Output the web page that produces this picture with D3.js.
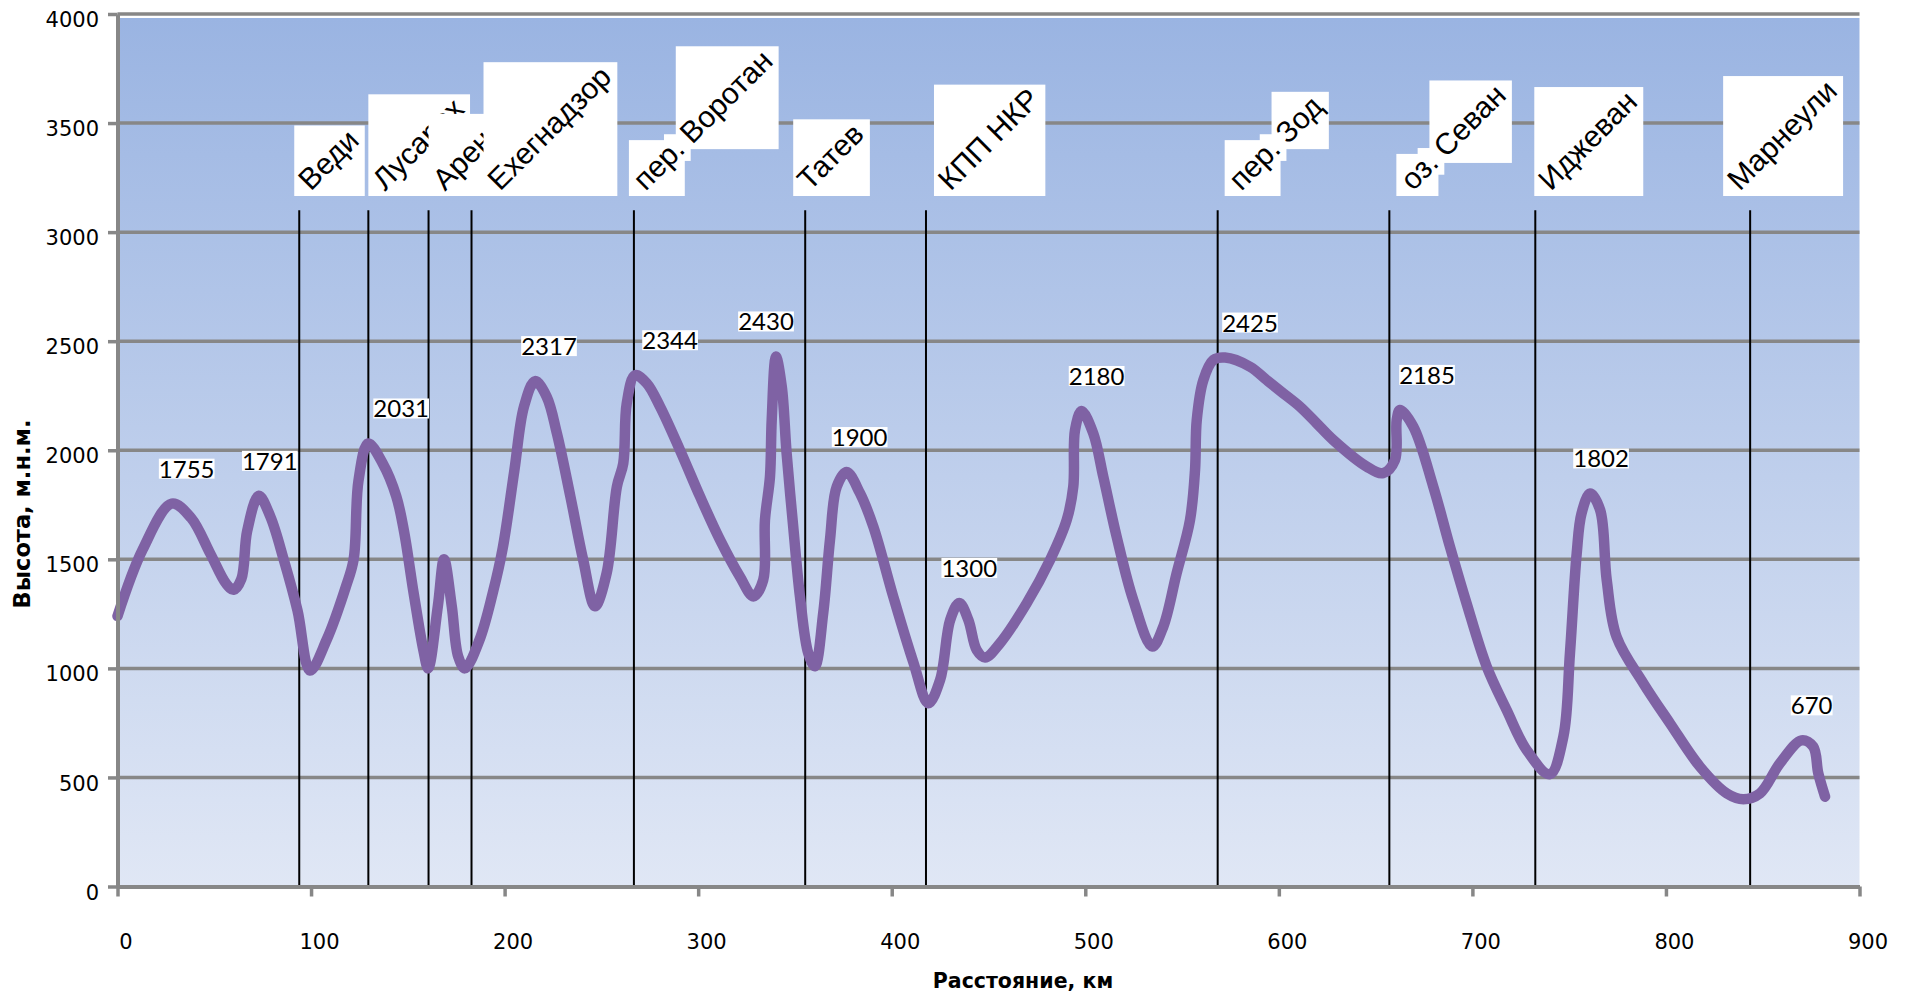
<!DOCTYPE html>
<html lang="ru">
<head>
<meta charset="UTF-8">
<title>Профиль высот</title>
<script src="https://d3js.org/d3.v7.min.js"></script>
<style>
  body { margin: 0; background: #fff; }
  svg { display: block; }
</style>
</head>
<body>
<svg width="1910" height="994"></svg>
<script>
// профиль маршрута: расстояние (км) и высота (м)
const distanceKm = [
  0, 13, 28, 38, 48, 56, 60, 64, 67, 73, 79, 86, 93, 99.5, 108, 118, 122, 124.5, 129.5,
  137, 144, 148, 153, 158, 160.5, 165.5, 168.7, 172.7, 176, 179.5, 187, 194, 199, 205,
  210, 215.7, 221.7, 227, 234, 240.6, 246.7, 252.7, 258, 261.3, 263.1, 267.4, 273.4,
  280.3, 290.6, 301, 311.3, 321.6, 328.5, 333.6, 334.5, 337.1, 338, 340.2, 343.2, 345.7,
  349.1, 352.6, 356.9, 360.3, 364.6, 368.1, 371.6, 376.7, 383.6, 390.5, 400.8, 411.1,
  418.9, 425, 430.2, 434.9, 439.6, 443.9, 448.2, 455.9, 469.7, 481.8, 490.4, 493.8,
  494.7, 498.1, 504.1, 509.3, 516.2, 524.8, 534.6, 540.3, 547.2, 554.1, 556.7, 557.6,
  561, 566.2, 572.2, 585.1, 593.7, 602.3, 610.9, 619.5, 628.1, 645.4, 653.9, 660, 660.9,
  662.6, 669.5, 679.8, 688.4, 697, 707.4, 717.7, 728, 740, 747, 750.4, 753.9, 756.4,
  760.8, 766, 769.4, 774.5, 788.3, 802.1, 817.6, 831.4, 840, 848.6, 858.9, 870.1, 876.1,
  878.7, 882.2
];
const elevationM = [
  1240, 1545, 1755, 1690, 1525, 1390, 1360, 1410, 1630, 1791, 1695, 1495, 1265, 990, 1130, 1375, 1500, 1860, 2031,
  1940, 1790, 1630, 1345, 1085, 1000, 1285, 1500, 1285, 1055, 1000, 1130, 1350, 1550, 1905,
  2200, 2317, 2246, 2078, 1787, 1497, 1285, 1436, 1833, 1940, 2215, 2344, 2307,
  2200, 2001, 1787, 1589, 1420, 1330, 1405, 1680, 1879, 2139, 2430, 2291, 1986,
  1650, 1329, 1069, 1010, 1253, 1589, 1833, 1900, 1803, 1650, 1329, 1030,
  840, 947, 1222, 1300, 1222, 1084, 1050, 1115, 1298, 1497, 1680, 1833,
  2093, 2180, 2078, 1879, 1604, 1313, 1100, 1191, 1436, 1680, 1909, 2139,
  2322, 2414, 2425, 2383, 2322, 2261, 2200, 2124, 2047, 1925, 1895, 1955, 2139,
  2185, 2108, 1833, 1558, 1298, 1008, 809, 626, 515, 687, 1069, 1528, 1711,
  1802, 1726, 1405, 1145, 932, 748, 549, 427, 400, 427, 565, 670, 641,
  519, 412
];
// подписанные вершины
const peakLabels = [1755, 1791, 2031, 2317, 2344, 2430, 1900, 1300, 2180, 2425, 2185, 1802, 670];
// сдвиг подписей вершин вправо, px
const peakNudge = [15, 11, 33, 14, 35, -10, 13, 10, 15, 25, 27, 11, 10];

// пункты маршрута
const placeNames = ["Веди", "Лусарох", "Арени", "Ехегнадзор", "пер. Воротан", "Татев",
  "КПП НКР", "пер. Зод", "оз. Севан", "Иджеван", "Марнеули"];
const placeKm = [93.9, 129.6, 160.7, 182.9, 266.8, 355.3, 417.7, 568.4, 657.1, 732.5, 843.5];
const placeLineTop = 3100;
// сдвиг надписей относительно линии, px
const placeNudge = [-5, 0, 0, 12, -5, -12, 8, 7, 7, -1, -27];

const xTicks = [0, 100, 200, 300, 400, 500, 600, 700, 800, 900];
const yTicks = [0, 500, 1000, 1500, 2000, 2500, 3000, 3500, 4000];

const svg = d3.select("svg");
const x = d3.scaleLinear().domain([0, 900]).range([117.5, 1859.5]);
const y = d3.scaleLinear().domain([0, 4000]).range([886.5, 14]);
const gridColor = "#878787";

const defs = svg.append("defs");
const grad = defs.append("linearGradient")
  .attr("id", "bg").attr("x1", 0).attr("y1", 0).attr("x2", 0).attr("y2", 1);
grad.append("stop").attr("offset", "0%").attr("stop-color", "#9ab4e2");
grad.append("stop").attr("offset", "100%").attr("stop-color", "#e0e7f5");

svg.append("rect")
  .attr("x", x(0)).attr("y", y(4000) + 4)
  .attr("width", x(900) - x(0)).attr("height", y(0) - y(4000) - 4)
  .attr("fill", "url(#bg)");

// горизонтальная сетка
svg.append("g").selectAll("line")
  .data(yTicks.filter(d => d > 0))
  .join("line")
  .attr("x1", x(0)).attr("x2", x(900))
  .attr("y1", d => y(d)).attr("y2", d => y(d))
  .attr("stroke", gridColor).attr("stroke-width", 3.5);

// вертикальные линии пунктов
svg.append("g").selectAll("line")
  .data(placeKm)
  .join("line")
  .attr("x1", d => x(d)).attr("x2", d => x(d))
  .attr("y1", y(placeLineTop)).attr("y2", y(0))
  .attr("stroke", "#000").attr("stroke-width", 2);

// профиль
const points = distanceKm.map((d, i) => [d, elevationM[i]]);
const line = d3.line()
  .x(d => x(d[0]))
  .y(d => y(d[1]))
  .curve(d3.curveCatmullRom.alpha(0.5));

svg.append("path")
  .datum(points)
  .attr("d", line)
  .attr("fill", "none")
  .attr("stroke", "#7f62a4")
  .attr("stroke-width", 10.5)
  .attr("stroke-linecap", "round")
  .attr("stroke-linejoin", "round");

// подписи высот
const peakG = svg.append("g")
  .attr("font-family", "Lato, 'Open Sans', sans-serif")
  .attr("font-size", 24);
peakLabels.forEach((v, k) => {
  const i = elevationM.indexOf(v);
  const px = x(distanceKm[i]) + peakNudge[k];
  const py = y(v) - 26;
  const r = peakG.append("rect").attr("fill", "#fff");
  const t = peakG.append("text")
    .attr("x", px).attr("y", py)
    .attr("text-anchor", "middle")
    .attr("fill", "#000")
    .text(v);
  const bb = t.node().getBBox();
  r.attr("x", bb.x).attr("y", py - 19).attr("width", bb.width).attr("height", 20);
});

// названия пунктов
const fs = 30;
const c45 = Math.SQRT1_2;
const placeG = svg.append("g")
  .attr("font-family", "'Liberation Sans', Arial, sans-serif")
  .attr("font-size", fs);
placeNames.forEach((name, k) => {
  const g = placeG.append("g");
  const boxes = g.append("g");
  const t = g.append("text")
    .attr("transform", "rotate(-45)")
    .attr("fill", "#000")
    .text(name);
  const node = t.node();
  const re = /\.|[^.\s][^.]*/g;
  let m, first = null;
  const runs = [];
  while ((m = re.exec(name)) !== null) {
    const u0 = node.getStartPositionOfChar(m.index).x;
    const w = node.getSubStringLength(m.index, m[0].length);
    const us = [u0, u0 + w], vs = [-0.78 * fs, 0.2 * fs];
    const xs = [], ys = [];
    us.forEach(u => vs.forEach(v => {
      xs.push((u + v) * c45);
      ys.push((-u + v) * c45);
    }));
    const b = { x0: d3.min(xs), x1: d3.max(xs), y0: d3.min(ys), y1: d3.max(ys) };
    if (!first) first = b;
    runs.push(b);
  }
  boxes.selectAll("rect").data(runs).join("rect")
    .attr("x", d => d.x0).attr("y", d => d.y0)
    .attr("width", d => d.x1 - d.x0).attr("height", d => d.y1 - d.y0)
    .attr("fill", "#fff");
  const tx = x(placeKm[k]) + placeNudge[k] - first.x0;
  const ty = 196 - first.y1;
  g.attr("transform", `translate(${tx},${ty})`);
});

// оси
const yAxis = svg.append("g")
  .attr("transform", `translate(${x(0)},0)`)
  .call(d3.axisLeft(y).tickValues(yTicks).tickFormat(d3.format("d"))
    .tickSize(9.5).tickSizeOuter(0).tickPadding(9));
yAxis.select(".domain").attr("stroke", gridColor).attr("stroke-width", 4);
yAxis.selectAll(".tick line").attr("stroke", gridColor).attr("stroke-width", 3.5);
yAxis.selectAll(".tick text")
  .attr("font-family", "'DejaVu Sans', sans-serif")
  .attr("font-size", 21)
  .attr("fill", "#000")
  .attr("dy", "0.6em");

const xAxis = svg.append("g")
  .attr("transform", `translate(0,${y(0)})`)
  .call(d3.axisBottom(x).tickValues(xTicks).tickFormat(d3.format("d"))
    .tickSize(10).tickSizeOuter(0));
xAxis.select(".domain").attr("stroke", gridColor).attr("stroke-width", 4);
xAxis.selectAll(".tick line").attr("stroke", gridColor).attr("stroke-width", 3.5);
xAxis.selectAll(".tick text")
  .attr("font-family", "'DejaVu Sans', sans-serif")
  .attr("font-size", 21)
  .attr("fill", "#000")
  .attr("x", 8)
  .attr("y", 62)
  .attr("dy", null);

// заголовки осей
svg.append("text")
  .attr("x", 1023).attr("y", 988)
  .attr("text-anchor", "middle")
  .attr("font-family", "'DejaVu Sans', sans-serif")
  .attr("font-weight", "bold")
  .attr("font-size", 20.5)
  .text("Расстояние, км");

svg.append("text")
  .attr("transform", "translate(30,514) rotate(-90)")
  .attr("text-anchor", "middle")
  .attr("font-family", "'DejaVu Sans', sans-serif")
  .attr("font-weight", "bold")
  .attr("font-size", 22.5)
  .text("Высота, м.н.м.");
</script>
</body>
</html>
